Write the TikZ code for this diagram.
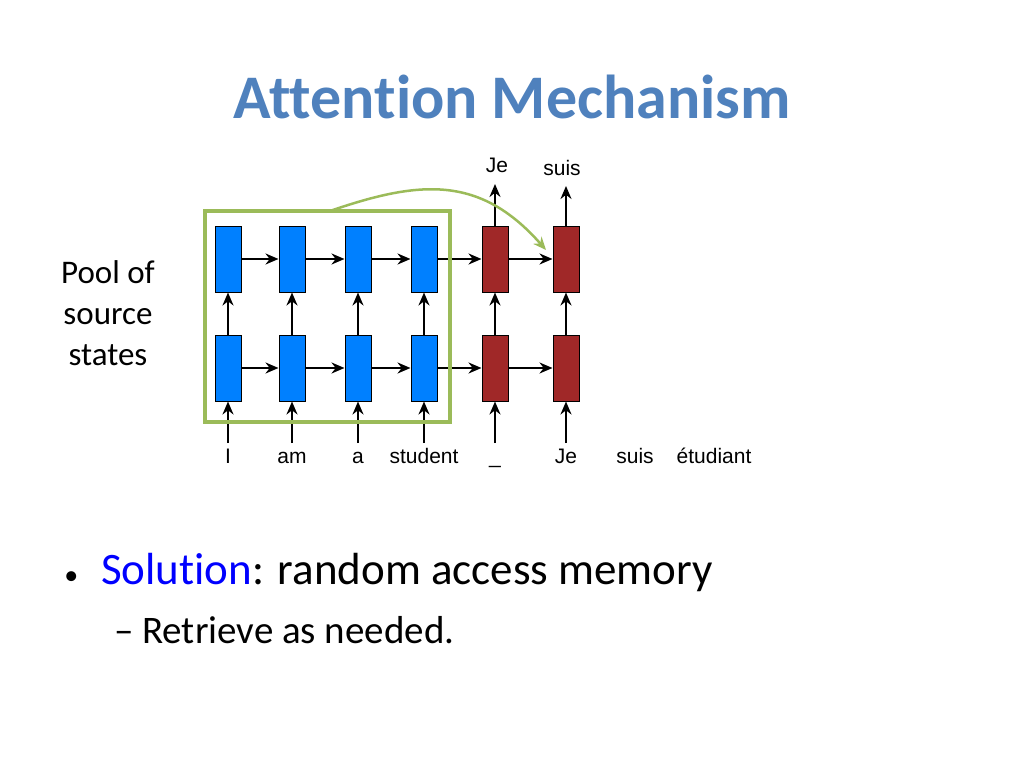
\documentclass[tikz,border=0pt]{standalone}
\usepackage{fontspec}
\setmainfont{Carlito}[Ligatures=NoCommon]
\newfontfamily\arialfont{Liberation Sans}
\usetikzlibrary{arrows.meta,positioning,calc}
\definecolor{titleblue}{RGB}{79,129,189}
\definecolor{encblue}{RGB}{0,128,255}
\definecolor{decred}{RGB}{160,40,40}
\definecolor{poolgreen}{RGB}{155,187,89}
\tikzset{
enc/.style = {draw, fill=encblue, rectangle, minimum height=66pt, minimum width=26pt, inner sep=0pt, line width=1pt},
dec/.style = {draw, fill=decred, rectangle, minimum height=66pt, minimum width=26pt, inner sep=0pt, line width=1pt},
word/.style = {font=\arialfont\fontsize{21}{21}\selectfont, inner sep=0pt},
tmp/.style = {coordinate}
}
\begin{document}
\begin{tikzpicture}[x=1pt, y=-1pt, >={Stealth[length=13pt,width=11pt]}, line width=2pt]
  \useasboundingbox (0,0) rectangle (1024,768);
  \node [font=\bfseries\fontsize{62}{62}\selectfont, text=titleblue] (title) at (512,97) {Attention Mechanism};

  % encoder and decoder cells
  \foreach \x/\n in {228/1, 292/2, 358/3, 424/4} {
    \node [enc] (top\n) at (\x,259) {};
    \node [enc] (bot\n) at (\x,368) {};
  }
  \foreach \x/\n in {495/5, 566/6} {
    \node [dec] (top\n) at (\x,259) {};
    \node [dec] (bot\n) at (\x,368) {};
  }

  % inputs
  \foreach \x/\n/\w in {228/1/I, 292/2/am, 358/3/a, 424/4/student, 495/5/\_, 566/6/Je} {
    \node [word, anchor=base] (in\n) at (\x,463) {\w};
    \draw [->] (\x,443) -- (bot\n.south);
    \draw [->] (bot\n) -- (top\n);
  }
  \node [word, anchor=base] (in7) at (635,463) {suis};
  \node [word, anchor=base] (in8) at (714,463) {étudiant};

  % recurrence
  \foreach \a/\b in {1/2, 2/3, 3/4, 4/5, 5/6} {
    \draw [->] (top\a) -- (top\b);
    \draw [->] (bot\a) -- (bot\b);
  }

  % outputs
  \node [word, anchor=base] (out5) at (497,172) {Je};
  \node [word, anchor=base] (out6) at (562,175) {suis};
  \draw [->] (top5.north) -- (495,184);
  \draw [->] (top6.north) -- (566,186);

  % pool of source states
  \draw [poolgreen, line width=3.5pt] (205,211) rectangle (450,422);
  \coordinate (pooltop) at (330,211);
  \draw [poolgreen, line width=2.5pt, ->] (pooltop) .. controls (420,180) and (480,175) .. (546,250);
  \node [font=\fontsize{33}{41}\selectfont, align=center] (pool) at (108,313) {Pool of\\source\\states};

  \node [font=\fontsize{28}{28}\selectfont, anchor=base west] (bul) at (60,584) {\textbullet};
  \node [font=\fontsize{45}{45}\selectfont, anchor=base west, inner sep=0pt] (sol) at (100,584) {\textcolor{blue}{Solution}: random access memory};
  \node [font=\fontsize{39}{39}\selectfont, anchor=base west, inner sep=0pt] (ret) at (113,643) {– Retrieve as needed.};
\end{tikzpicture}
\end{document}
